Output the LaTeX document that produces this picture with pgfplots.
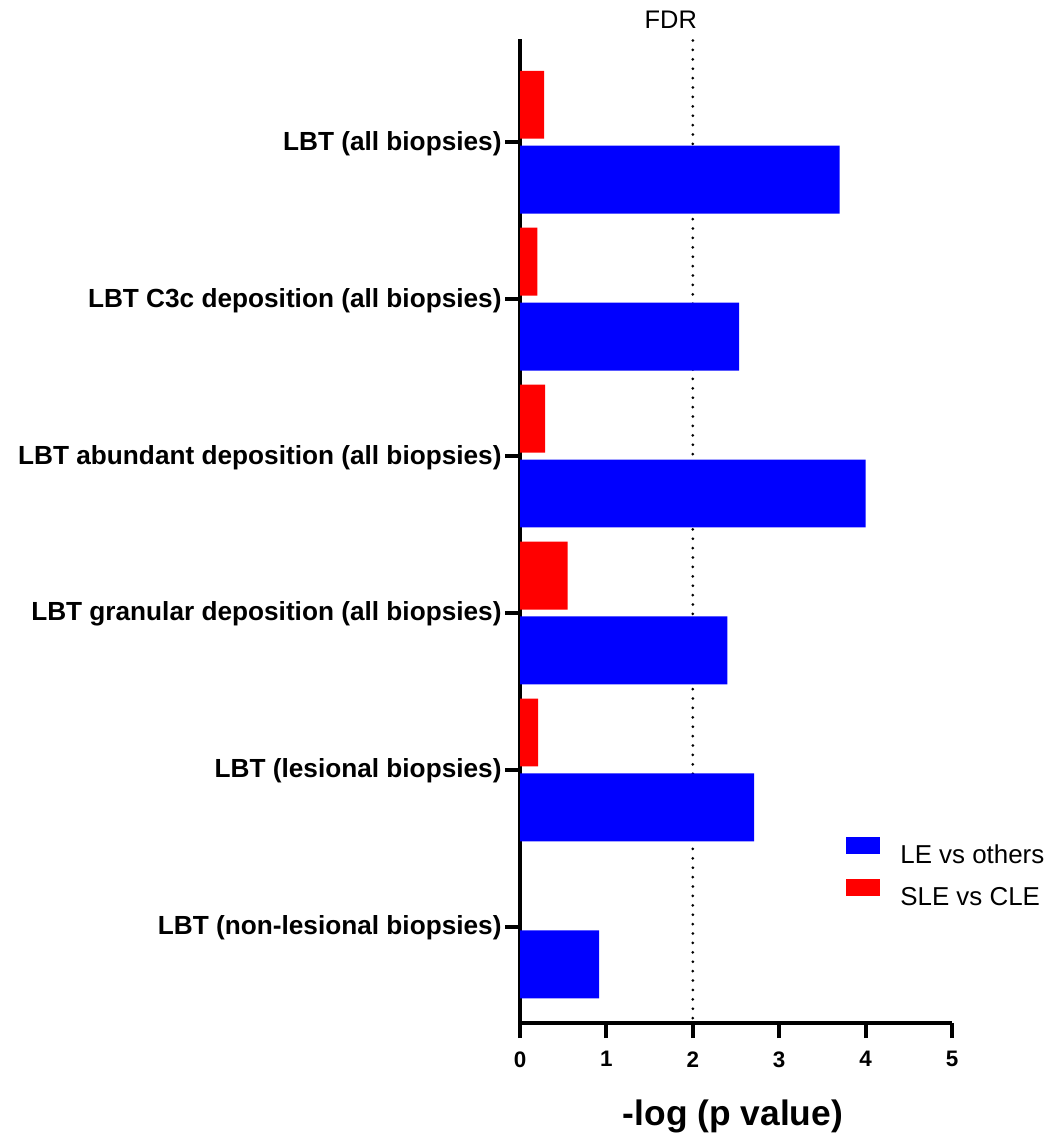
\documentclass[border=0pt]{standalone}
\usepackage{pgfplots}
\pgfplotsset{compat=1.18}
\usepackage{fontspec}
\setmainfont{Liberation Sans}

\begin{document}
\begin{tikzpicture}
\useasboundingbox (0,0) rectangle (1051bp,-1135bp);
\begin{axis}[
    at={(520bp,-1023bp)}, anchor=south west,
    scale only axis, width=432bp, height=984bp,
    xmin=0, xmax=5,
    ymin=-0.611, ymax=5.659,
    axis x line*=bottom, axis y line*=left,
    axis line style={-, line width=4bp},
    tick align=outside, major tick length=15bp,
    tick style={line width=4bp, black},
    xtick={0,1,...,5},
    ytick={0,1,...,5},
    yticklabels={LBT (non-lesional biopsies), LBT (lesional biopsies),
        LBT granular deposition (all biopsies), LBT abundant deposition (all biopsies),
        LBT C3c deposition (all biopsies), LBT (all biopsies)},
    /pgf/number format/assume math mode=true,
    xticklabel style={font=\bfseries\fontsize{22.5}{26}\selectfont, yshift=-10bp},
    yticklabel style={font=\bfseries\fontsize{26.3}{31}\selectfont, yshift=-1bp},
    xlabel={-log (p value)},
    xlabel style={font=\bfseries\fontsize{35.5}{42}\selectfont, anchor=base,
        at={(axis description cs:0.493,0)}, yshift=-102bp},
    clip=false,
    legend cell align=left,
    legend style={draw=none, fill=none, inner sep=0pt, anchor=north west,
        at={(rel axis cs:0.755,0.189)}, row sep=14bp, column sep=20bp,
        nodes={inner sep=0pt}, font=\fontsize{26}{31}\selectfont},
    legend image code/.code={\fill[#1] (0bp,1bp) rectangle (34bp,18bp);},
]

% FDR threshold
\addplot[forget plot, black, line width=3bp, line cap=round,
    dash pattern=on 0bp off 9.4bp] coordinates {(2,-0.58) (2,5.659)};
\node[font=\fontsize{25.5}{30}\selectfont, anchor=base] at (axis cs:2,5.659) [xshift=-22bp, yshift=11bp] {FDR};

\addplot[xbar, bar width=0.433, bar shift=-0.237, fill=blue, draw=none]
    coordinates {(3.70,5) (2.535,4) (4.00,3) (2.40,2) (2.71,1) (0.915,0)};
\addlegendentry{LE vs others}

\addplot[xbar, bar width=0.433, bar shift=0.24, fill=red, draw=none]
    coordinates {(0.28,5) (0.20,4) (0.29,3) (0.55,2) (0.21,1)};
\addlegendentry{SLE vs CLE}

\end{axis}
\end{tikzpicture}
\end{document}
